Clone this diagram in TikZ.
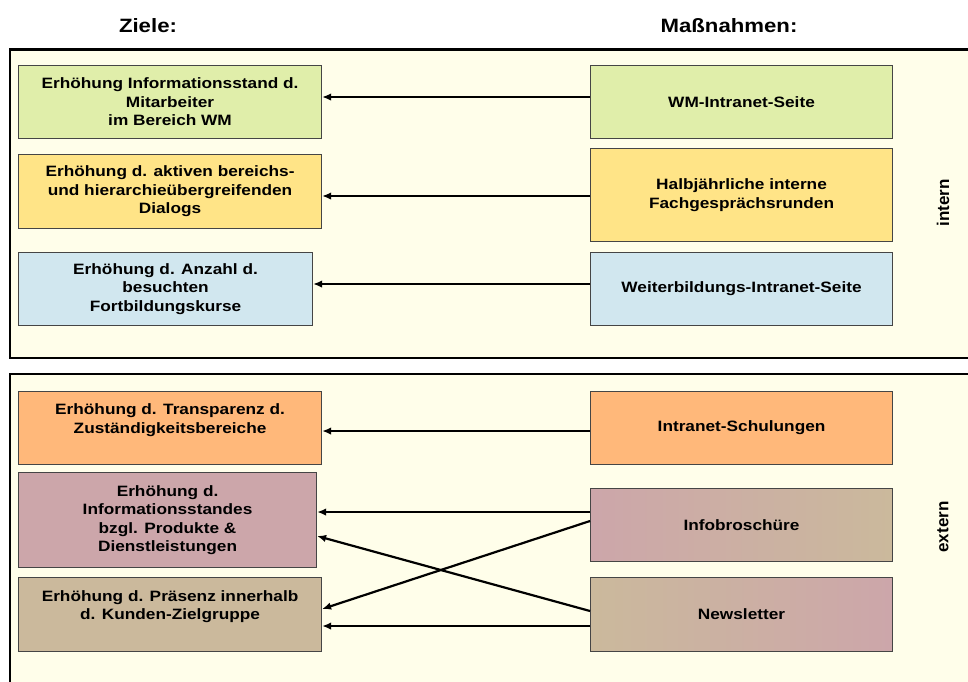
\documentclass[tikz,border=0pt]{standalone}
\usepackage{fontspec}
\setmainfont{Liberation Sans}[FakeStretch=1.15]
\newfontfamily\labfont{Liberation Sans}
\usetikzlibrary{arrows.meta}
\definecolor{framefill}{HTML}{FFFEEA}
\definecolor{boxline}{HTML}{454545}
\definecolor{cgreen}{HTML}{E0EEAA}
\definecolor{cyellow}{HTML}{FFE487}
\definecolor{cblue}{HTML}{D1E7EF}
\definecolor{corange}{HTML}{FFB87A}
\definecolor{cmauve}{HTML}{CCA6AA}
\definecolor{ctan}{HTML}{CBB99C}
\tikzset{
  framebox/.style={draw=black, line width=2.4pt, fill=framefill},
  box/.style={draw=boxline, line width=1.1pt, anchor=north west, align=center,
    inner sep=0pt, font=\bfseries\fontsize{15}{18.5}\selectfont},
  header/.style={anchor=base, font=\bfseries\fontsize{19.3}{23}\selectfont},
  sidelabel/.style={rotate=90, font=\labfont\bfseries\fontsize{17}{20}\selectfont},
  arr/.style={line width=2.2pt, -{Latex[length=9pt,width=7.5pt]}},
}
\begin{document}
\begin{tikzpicture}[x=1pt,y=-1pt]
\useasboundingbox (0,0) rectangle (968,681);
\clip (0,0) rectangle (968,681);
\fill[white] (0,0) rectangle (968,681);
% frames
\draw[framebox] (10,49.5) rectangle (995,358);
\draw[framebox] (10,374) rectangle (995,710);
% headers
\node[header] (hz) at (148,32) {Ziele:};
\node[header] (hm) at (729,32) {Maßnahmen:};
% side labels
\node[sidelabel] (lint) at (943,203) {intern};
\node[sidelabel] (lext) at (943,527) {extern};
% left boxes
\node[box, fill=cgreen, minimum width=303pt, minimum height=73pt] (l1) at (18,65)
  {Erhöhung Informationsstand d.\\Mitarbeiter\\im Bereich WM};
\node[box, fill=cyellow, minimum width=303pt, minimum height=74pt] (l2) at (18,154)
  {Erhöhung d. aktiven bereichs-\\und hierarchieübergreifenden\\Dialogs};
\node[box, fill=cblue, minimum width=294pt, minimum height=73pt] (l3) at (18,252)
  {Erhöhung d. Anzahl d.\\besuchten\\Fortbildungskurse};
\node[box, fill=corange, minimum width=303pt, minimum height=73pt] (l4) at (18,391)
  {Erhöhung d. Transparenz d.\\Zuständigkeitsbereiche\\~};
\node[box, fill=cmauve, minimum width=298pt, minimum height=95pt] (l5) at (18,472)
  {Erhöhung d.\\Informationsstandes\\bzgl. Produkte \&\\Dienstleistungen};
\node[box, fill=ctan, minimum width=303pt, minimum height=74pt] (l6) at (18,577)
  {Erhöhung d. Präsenz innerhalb\\d. Kunden-Zielgruppe\\~};
% right boxes
\node[box, fill=cgreen, minimum width=302pt, minimum height=73pt] (r1) at (590,65)
  {WM-Intranet-Seite};
\node[box, fill=cyellow, minimum width=302pt, minimum height=93pt] (r2) at (590,148)
  {Halbjährliche interne\\Fachgesprächsrunden};
\node[box, fill=cblue, minimum width=302pt, minimum height=73pt] (r3) at (590,252)
  {Weiterbildungs-Intranet-Seite};
\node[box, fill=corange, minimum width=302pt, minimum height=73pt] (r4) at (590,391)
  {Intranet-Schulungen};
\node[box, left color=cmauve, right color=ctan, minimum width=302pt, minimum height=73pt] (r5) at (590,488)
  {Infobroschüre};
\node[box, left color=ctan, right color=cmauve, minimum width=302pt, minimum height=74pt] (r6) at (590,577)
  {Newsletter};
% connectors
\draw[arr] (r1.west |- 0,97) -- (l1.east |- 0,97);
\draw[arr] (r2.west |- 0,196) -- (l2.east |- 0,196);
\draw[arr] (r3.west |- 0,284) -- (l3.east |- 0,284);
\draw[arr] (r4.west |- 0,431) -- (l4.east |- 0,431);
\draw[arr] (r5.west |- 0,512) -- (l5.east |- 0,512);
\draw[arr] (r5.west |- 0,521) -- (l6.east |- 0,609);
\draw[arr] (r6.west |- 0,611) -- (l5.east |- 0,536);
\draw[arr] (r6.west |- 0,626) -- (l6.east |- 0,626);
\end{tikzpicture}
\end{document}
